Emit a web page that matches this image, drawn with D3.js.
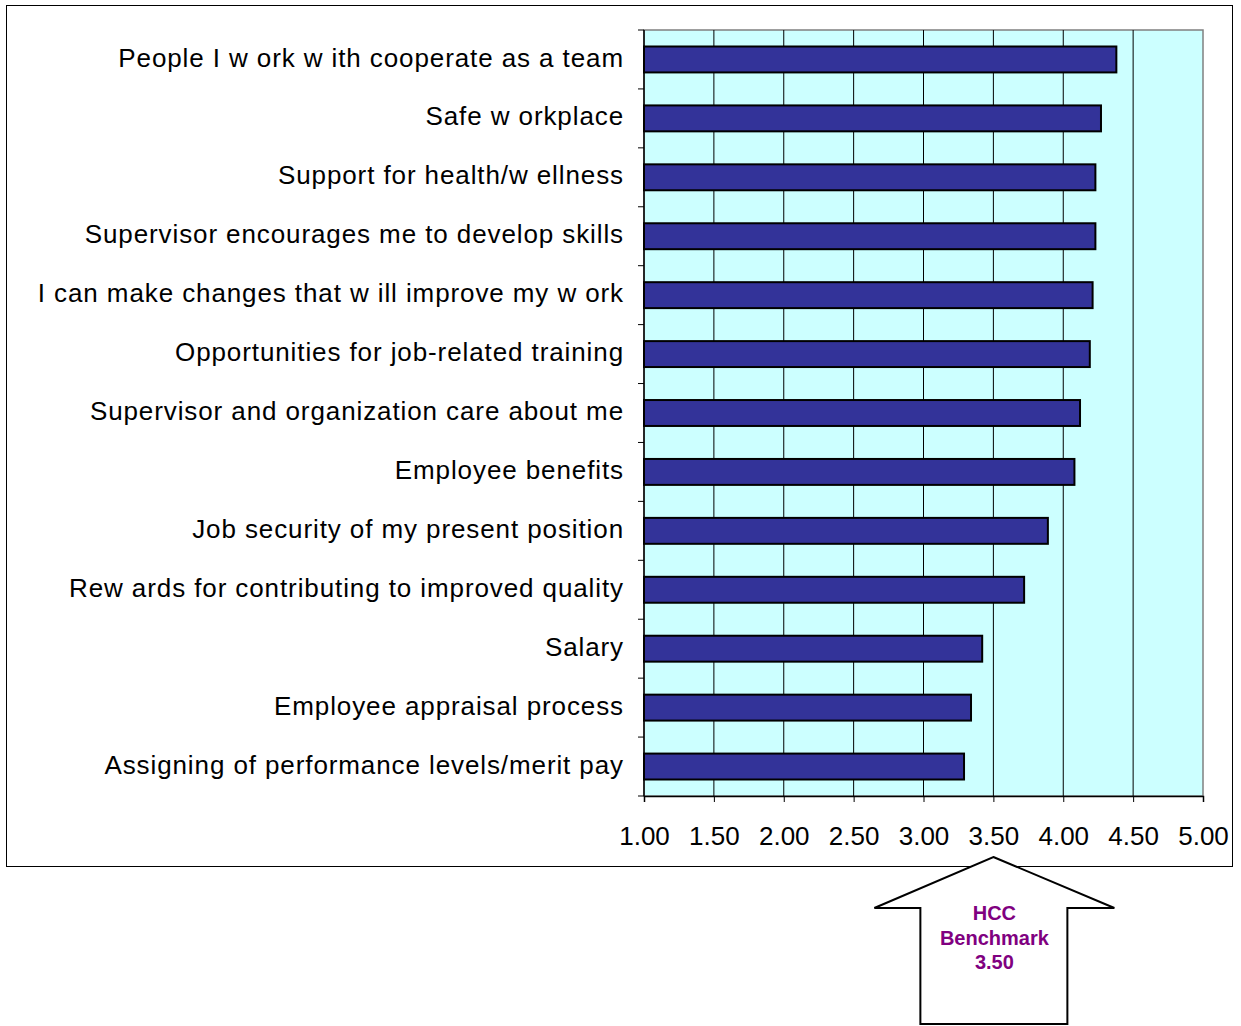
<!DOCTYPE html>
<html>
<head>
<meta charset="utf-8">
<script src="https://cdn.jsdelivr.net/npm/d3@7"></script>
<style>
  body { margin:0; background:#fff; }
  text { font-family: "Liberation Sans", Arial, sans-serif; }
</style>
</head>
<body>
<div id="chart"></div>
<script>
// categories, top to bottom (text as it appears on the slide)
var categories = [
  "People I w ork w ith cooperate as a team",
  "Safe w orkplace",
  "Support for health/w ellness",
  "Supervisor encourages me to develop skills",
  "I can make changes that w ill improve my w ork",
  "Opportunities for job-related training",
  "Supervisor and organization care about me",
  "Employee benefits",
  "Job security of my present position",
  "Rew ards for contributing to improved quality",
  "Salary",
  "Employee appraisal process",
  "Assigning of performance levels/merit pay"
]
var scores = [4.38, 4.27, 4.23, 4.23, 4.21, 4.19, 4.12, 4.08, 3.89, 3.72, 3.42, 3.34, 3.29]
var xTicks = [1.00, 1.50, 2.00, 2.50, 3.00, 3.50, 4.00, 4.50, 5.00]
var benchmark = 3.50
var benchmarkLines = ["HCC", "Benchmark", "3.50"]

var W = 1241, H = 1026
var plot = {left: 644, right: 1203, top: 30, bottom: 796}

var svg = d3.select("#chart").append("svg")
  .attr("width", W).attr("height", H)

// outer chart frame
svg.append("rect")
  .attr("x", 6.5).attr("y", 5.5).attr("width", 1226).attr("height", 861)
  .attr("fill", "#fff").attr("stroke", "#000").attr("stroke-width", 1)

var x = d3.scaleLinear().domain([1, 5]).range([plot.left, plot.right])
var y = d3.scaleBand().domain(categories).range([plot.top, plot.bottom])
  .paddingInner(0.56).paddingOuter(0.28)

// plot area
svg.append("rect")
  .attr("x", plot.left).attr("y", plot.top)
  .attr("width", plot.right - plot.left).attr("height", plot.bottom - plot.top)
  .attr("fill", "#CCFFFF").attr("stroke", "#808080").attr("stroke-width", 1.5)

// gridlines
svg.append("g").selectAll("line")
  .data(xTicks.slice(1, -1)).enter().append("line")
  .attr("x1", function(d){return x(d)}).attr("x2", function(d){return x(d)})
  .attr("y1", plot.top).attr("y2", plot.bottom)
  .attr("stroke", "#000").attr("stroke-width", 1)

// bars
svg.append("g").selectAll("rect")
  .data(scores).enter().append("rect")
  .attr("x", x(1))
  .attr("y", function(d, i){return y(categories[i])})
  .attr("width", function(d){return x(d) - x(1)})
  .attr("height", y.bandwidth())
  .attr("fill", "#333399").attr("stroke", "#000").attr("stroke-width", 2)

// x axis
var xAxis = d3.axisBottom(x).tickValues(xTicks).tickSize(6).tickPadding(25)
  .tickFormat(d3.format(".2f"))
var gx = svg.append("g").attr("transform", "translate(0," + plot.bottom + ")").call(xAxis)
gx.select(".domain").attr("stroke", "#000").attr("stroke-width", 1.5)
gx.selectAll(".tick line").attr("stroke", "#000")
gx.selectAll("text").attr("font-size", 26).attr("fill", "#000")
  .attr("font-family", "'Liberation Sans', Arial, sans-serif")

// y axis line + ticks at band boundaries
var step = (plot.bottom - plot.top) / categories.length
svg.append("line")
  .attr("x1", plot.left).attr("x2", plot.left)
  .attr("y1", plot.top).attr("y2", plot.bottom)
  .attr("stroke", "#000").attr("stroke-width", 1.5)
svg.append("g").selectAll("line")
  .data(d3.range(categories.length + 1)).enter().append("line")
  .attr("x1", plot.left - 6).attr("x2", plot.left)
  .attr("y1", function(i){return plot.top + i*step})
  .attr("y2", function(i){return plot.top + i*step})
  .attr("stroke", "#000")

// category labels
svg.append("g").selectAll("text")
  .data(categories).enter().append("text")
  .attr("x", plot.left - 20)
  .attr("y", function(d){return y(d) + y.bandwidth()/2 - 2})
  .attr("dy", "0.35em")
  .attr("text-anchor", "end")
  .attr("font-size", 26)
  .attr("letter-spacing", "0.9px")
  .text(function(d){return d})

// benchmark arrow
var bx = x(benchmark)
var arrow = [
  [bx, 857], [bx + 121, 908], [bx + 74, 908], [bx + 74, 1024],
  [bx - 73, 1024], [bx - 73, 908], [bx - 119, 908]
]
svg.append("polygon")
  .attr("points", arrow.map(function(p){return p.join(",")}).join(" "))
  .attr("fill", "#fff").attr("stroke", "#000").attr("stroke-width", 2)

svg.append("g").selectAll("text")
  .data(benchmarkLines).enter().append("text")
  .attr("x", bx + 1)
  .attr("y", function(d, i){return 920 + i*24.5})
  .attr("text-anchor", "middle")
  .attr("font-size", 20).attr("font-weight", "bold")
  .attr("fill", "#800080")
  .text(function(d){return d})
</script>
</body>
</html>
